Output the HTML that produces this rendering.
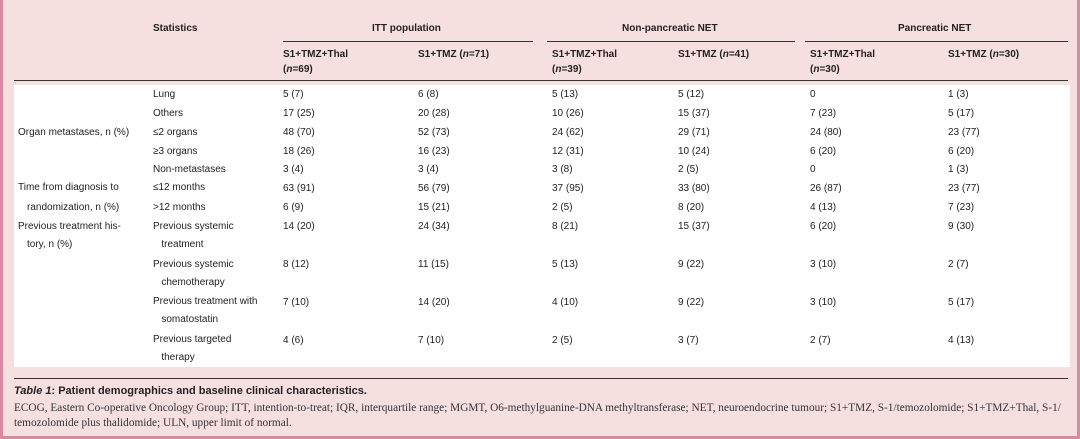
<!DOCTYPE html>
<html><head><meta charset="utf-8"><style>
*{margin:0;padding:0;box-sizing:border-box}
body{width:1080px;height:439px;background:#fff;position:relative;overflow:hidden;font-family:"Liberation Sans",sans-serif;font-size:10px;color:#222}
#bg{position:absolute;left:0;top:0;width:1080px;height:439px;background:#f6e0df;border-left:3px solid #d98aa0;border-right:3px solid #d98aa0;border-bottom:3px solid #d98aa0}
#white{position:absolute;left:14px;top:85px;width:1056px;height:282px;background:#fff}
.t{position:absolute;white-space:nowrap;line-height:12px}
.b{font-weight:bold}
.l{position:absolute;background:#333}
.f{font-family:"Liberation Serif",serif;font-size:11.3px;color:#333}
</style></head><body>
<div id="bg"></div><div id="white"></div>
<div class="t b" style="left:153px;top:23px">Statistics</div>
<div class="t b" style="left:372px;top:23px">ITT population</div>
<div class="t b" style="left:622px;top:23px">Non-pancreatic NET</div>
<div class="t b" style="left:898px;top:23px">Pancreatic NET</div>
<div class="l" style="left:283px;top:41px;width:250px;height:1px"></div>
<div class="l" style="left:547px;top:41px;width:248px;height:1px"></div>
<div class="l" style="left:805px;top:41px;width:263px;height:1px"></div>
<div class="t b" style="left:283px;top:47px;line-height:15px">S1+TMZ+Thal<br>(<i>n</i>=69)</div>
<div class="t b" style="left:418px;top:47px;line-height:15px">S1+TMZ (<i>n</i>=71)</div>
<div class="t b" style="left:552px;top:47px;line-height:15px">S1+TMZ+Thal<br>(<i>n</i>=39)</div>
<div class="t b" style="left:678px;top:47px;line-height:15px">S1+TMZ (<i>n</i>=41)</div>
<div class="t b" style="left:810px;top:47px;line-height:15px">S1+TMZ+Thal<br>(<i>n</i>=30)</div>
<div class="t b" style="left:948px;top:47px;line-height:15px">S1+TMZ (<i>n</i>=30)</div>
<div class="l" style="left:14px;top:80px;width:1054px;height:1px"></div>

<div class="t" style="left:18px;top:127px">Organ metastases, n (%)</div>
<div class="t" style="left:18px;top:182px">Time from diagnosis to</div>
<div class="t" style="left:27px;top:202px">randomization, n (%)</div>
<div class="t" style="left:18px;top:221px">Previous treatment his-</div>
<div class="t" style="left:27px;top:239px">tory, n (%)</div>

<div class="t" style="left:153px;top:89px">Lung</div>
<div class="t" style="left:153px;top:108px">Others</div>
<div class="t" style="left:153px;top:127px">≤2 organs</div>
<div class="t" style="left:153px;top:146px">≥3 organs</div>
<div class="t" style="left:153px;top:164px">Non-metastases</div>
<div class="t" style="left:153px;top:182px">≤12 months</div>
<div class="t" style="left:153px;top:202px">&gt;12 months</div>
<div class="t" style="left:153px;top:218px;line-height:18px">Previous systemic<br>&nbsp;&nbsp;&nbsp;treatment</div>
<div class="t" style="left:153px;top:256px;line-height:18px">Previous systemic<br>&nbsp;&nbsp;&nbsp;chemotherapy</div>
<div class="t" style="left:153px;top:293px;line-height:18px">Previous treatment with<br>&nbsp;&nbsp;&nbsp;somatostatin</div>
<div class="t" style="left:153px;top:331px;line-height:18px">Previous targeted<br>&nbsp;&nbsp;&nbsp;therapy</div>

<div class="t" style="left:283px;top:85px;line-height:19px">5 (7)<br>17 (25)<br>48 (70)<br>18 (26)</div>
<div class="t" style="left:418px;top:85px;line-height:19px">6 (8)<br>20 (28)<br>52 (73)<br>16 (23)</div>
<div class="t" style="left:552px;top:85px;line-height:19px">5 (13)<br>10 (26)<br>24 (62)<br>12 (31)</div>
<div class="t" style="left:678px;top:85px;line-height:19px">5 (12)<br>15 (37)<br>29 (71)<br>10 (24)</div>
<div class="t" style="left:810px;top:85px;line-height:19px">0<br>7 (23)<br>24 (80)<br>6 (20)</div>
<div class="t" style="left:948px;top:85px;line-height:19px">1 (3)<br>5 (17)<br>23 (77)<br>6 (20)</div>

<div class="t" style="left:283px;top:160px;line-height:19px">3 (4)<br>63 (91)<br>6 (9)<br>14 (20)<br><br>8 (12)<br><br>7 (10)<br><br>4 (6)</div>
<div class="t" style="left:418px;top:160px;line-height:19px">3 (4)<br>56 (79)<br>15 (21)<br>24 (34)<br><br>11 (15)<br><br>14 (20)<br><br>7 (10)</div>
<div class="t" style="left:552px;top:160px;line-height:19px">3 (8)<br>37 (95)<br>2 (5)<br>8 (21)<br><br>5 (13)<br><br>4 (10)<br><br>2 (5)</div>
<div class="t" style="left:678px;top:160px;line-height:19px">2 (5)<br>33 (80)<br>8 (20)<br>15 (37)<br><br>9 (22)<br><br>9 (22)<br><br>3 (7)</div>
<div class="t" style="left:810px;top:160px;line-height:19px">0<br>26 (87)<br>4 (13)<br>6 (20)<br><br>3 (10)<br><br>3 (10)<br><br>2 (7)</div>
<div class="t" style="left:948px;top:160px;line-height:19px">1 (3)<br>23 (77)<br>7 (23)<br>9 (30)<br><br>2 (7)<br><br>5 (17)<br><br>4 (13)</div>

<div class="l" style="left:14px;top:378px;width:1054px;height:1px"></div>
<div class="t b" style="left:14px;top:385px;font-size:11px"><i>Table 1</i>: Patient demographics and baseline clinical characteristics.</div>
<div class="t f" style="left:14px;top:402px">ECOG, Eastern Co-operative Oncology Group; ITT, intention-to-treat; IQR, interquartile range; MGMT, O6-methylguanine-DNA methyltransferase; NET, neuroendocrine tumour; S1+TMZ, S-1/temozolomide; S1+TMZ+Thal, S-1/</div>
<div class="t f" style="left:14px;top:417px">temozolomide plus thalidomide; ULN, upper limit of normal.</div>
</body></html>
